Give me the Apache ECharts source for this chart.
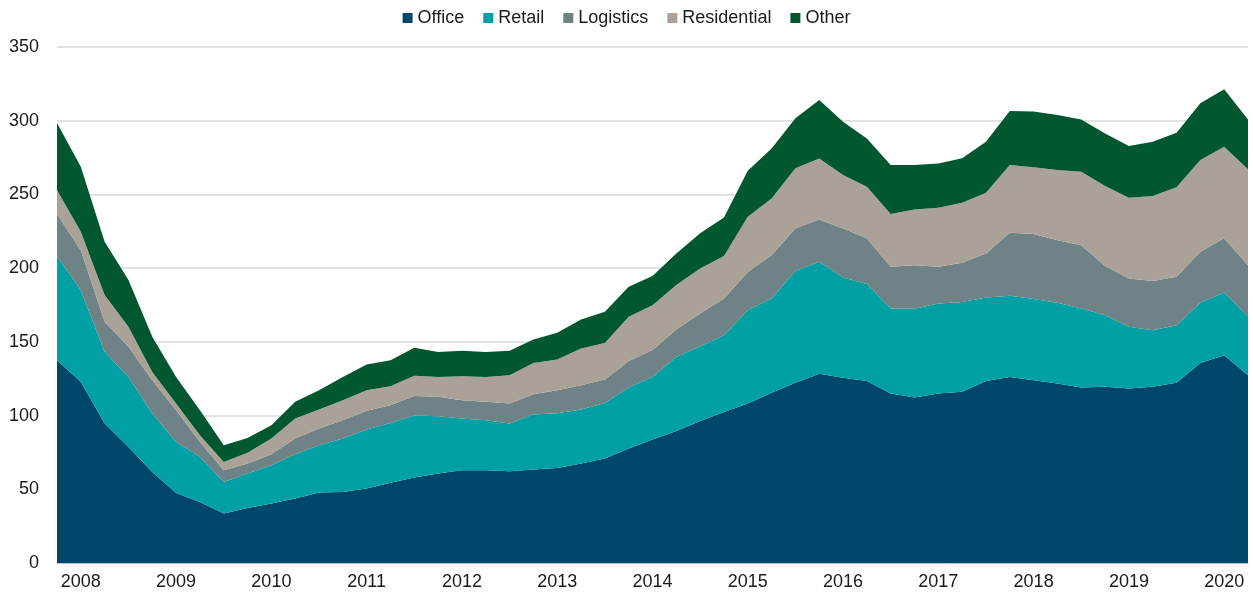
<!DOCTYPE html>
<html>
<head>
    <meta charset="utf-8">
    <title>Stacked area</title>
    <script src="https://cdn.jsdelivr.net/npm/echarts@6/dist/echarts.min.js"></script>
    <style type="text/css">
        html, body {
            margin: 0;
            padding: 0;
            background: #fff;
        }
        #main {
            width: 1253px;
            height: 597px;
        }
    </style>
</head>
<body>
<div id="main"></div>
<script type="text/javascript">
    // quarters, first point is Q4 2007, year labels sit on Q1
    var quarters = [];
    for (var y = 2007; y <= 2020; y++) {
        for (var q = 1; q <= 4; q++) {
            if ((y === 2007 && q < 4) || (y === 2020 && q > 2)) continue;
            quarters.push('Q' + q + ' ' + y);
        }
    }

    var office = [137.6, 122.9, 94.6, 78.7, 61.8, 47.5, 41.4, 33.5, 37.3, 40.3, 43.7, 47.8, 48.2, 50.5, 54.5, 58.0,
        60.7, 62.9, 62.9, 62.2, 63.4, 64.5, 67.5, 70.8, 77.6, 83.7, 89.6, 96.4, 102.5, 108.2, 115.4, 122.2, 128.3,
        125.6, 123.5, 115.0, 112.3, 115.0, 116.1, 123.5, 126.2, 124.0, 121.8, 119.0, 119.5, 118.4, 119.5, 122.2, 135.7, 141.0, 127.4];
    var retail = [70.6, 62.1, 48.6, 47.5, 39.6, 34.6, 30.6, 21.5, 23.4, 26.0, 30.1, 32.1, 36.2, 40.0, 40.5, 42.0,
        38.9, 35.1, 33.9, 32.4, 37.3, 37.0, 36.6, 37.8, 41.4, 42.5, 50.2, 50.7, 52.0, 63.3, 64.0, 76.0, 76.0,
        68.1, 65.7, 57.7, 60.1, 61.0, 61.0, 56.6, 55.0, 55.0, 54.7, 53.7, 48.6, 41.8, 38.4, 39.1, 40.8, 42.5, 39.6];
    var logistics = [28.3, 27.2, 20.4, 20.4, 22.6, 21.5, 10.1, 7.9, 6.8, 7.5, 10.6, 11.3, 12.4, 12.7, 12.0, 13.3,
        13.1, 12.4, 12.5, 13.6, 13.8, 15.7, 16.5, 15.9, 18.1, 18.2, 18.6, 22.2, 24.9, 25.9, 29.4, 28.8, 28.7,
        33.2, 31.0, 28.2, 29.6, 24.9, 26.5, 29.9, 42.8, 44.1, 42.5, 42.9, 33.3, 32.8, 33.3, 32.8, 34.6, 36.7, 35.0];
    var residential = [16.5, 12.5, 18.1, 13.6, 5.6, 4.6, 4.6, 5.6, 7.2, 10.6, 13.6, 12.9, 13.6, 14.0, 12.9, 13.7,
        13.5, 16.3, 16.9, 19.2, 21.2, 20.8, 24.9, 24.8, 29.9, 30.5, 30.1, 30.5, 28.8, 37.4, 38.5, 40.7, 41.3,
        36.2, 35.0, 35.8, 37.8, 40.1, 40.7, 41.1, 45.9, 45.3, 47.5, 49.8, 54.3, 54.7, 57.7, 60.7, 62.2, 62.1, 65.0];
    var other = [45.5, 44.1, 36.2, 31.7, 23.8, 18.0, 16.9, 11.4, 10.1, 9.1, 11.3, 13.1, 15.8, 17.4, 17.7, 19.0,
        17.0, 17.2, 17.0, 16.5, 15.9, 18.1, 19.7, 21.1, 20.3, 19.7, 21.5, 23.8, 26.2, 31.2, 33.9, 33.9, 39.7,
        36.2, 32.8, 33.2, 30.1, 30.0, 30.2, 34.6, 36.7, 37.8, 37.4, 35.5, 35.7, 35.1, 36.8, 37.0, 38.5, 39.0, 33.9];

    var names = ['Office', 'Retail', 'Logistics', 'Residential', 'Other'];
    var colors = ['#00476b', '#00a0a4', '#6f8286', '#aaa298', '#005730'];
    var values = [office, retail, logistics, residential, other];

    var series = [];
    for (var i = 0; i < names.length; i++) {
        series.push({
            name: names[i],
            type: 'line',
            stack: 'total',
            symbol: 'none',
            lineStyle: {width: 0},
            areaStyle: {color: colors[i], opacity: 1},
            itemStyle: {color: colors[i]},
            data: values[i]
        });
    }

    var option = {
        animation: false,
        textStyle: {fontFamily: 'Liberation Sans, Arial, sans-serif'},
        legend: {
            top: 4,
            left: 'center',
            icon: 'rect',
            itemWidth: 10,
            itemHeight: 10,
            itemGap: 19,
            selectedMode: false,
            textStyle: {fontSize: 18, color: '#1a1a1a'},
            data: names
        },
        grid: {
            left: 57,
            right: 5,
            top: 47,
            bottom: 34,
            containLabel: false
        },
        xAxis: {
            type: 'category',
            boundaryGap: false,
            data: quarters,
            axisTick: {show: false},
            axisLine: {lineStyle: {color: '#bfbfbf', width: 1}},
            axisLabel: {
                interval: function (idx) { return idx % 4 === 1; },
                formatter: function (v) { return v.split(' ')[1]; },
                fontSize: 18,
                color: '#1a1a1a',
                margin: 10
            },
            splitLine: {show: false}
        },
        yAxis: {
            type: 'value',
            min: 0,
            max: 350,
            interval: 50,
            axisLine: {show: false},
            axisTick: {show: false},
            axisLabel: {fontSize: 18, color: '#1a1a1a', margin: 18},
            splitLine: {lineStyle: {color: '#d9d9d9', width: 1.5}}
        },
        series: series
    };

    var chart = echarts.init(document.getElementById('main'));
    chart.setOption(option);
</script>
</body>
</html>
